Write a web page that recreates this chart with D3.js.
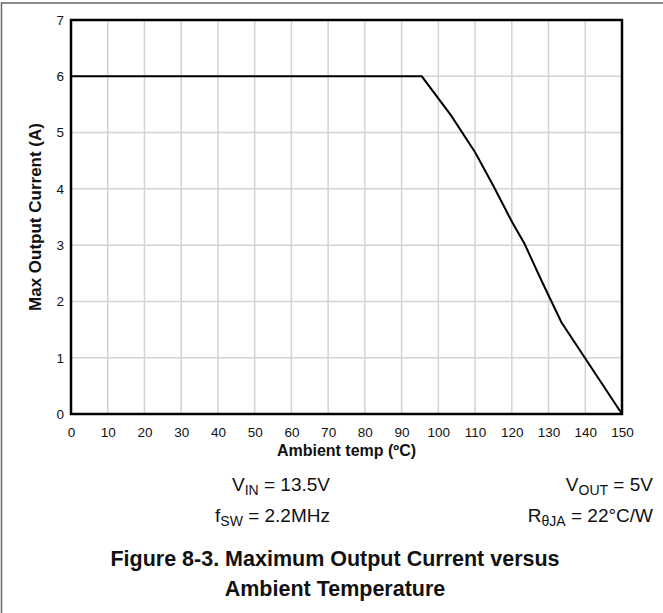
<!DOCTYPE html>
<html><head><meta charset="utf-8">
<script src="https://cdn.jsdelivr.net/npm/d3@7"></script>
<style>body{margin:0;background:#fff}svg{display:block;font-family:"Liberation Sans",Arial,sans-serif}</style>
</head><body>
<svg id="c" width="663" height="613"></svg>
<script>
const tempC = [0, 95.5, 103.5, 110, 115, 120, 123.5, 128, 133.5, 150];
const maxCurrentA = [6, 6, 5.3, 4.65, 4.05, 3.42, 3.02, 2.38, 1.63, 0];
const xTicks = [0,10,20,30,40,50,60,70,80,90,100,110,120,130,140,150];
const yTicks = [0,1,2,3,4,5,6,7];
const xTitle = "Ambient temp (ºC)";
const yTitle = "Max Output Current (A)";
const titleLines = ["Figure 8-3. Maximum Output Current versus", "Ambient Temperature"];

const svg = d3.select("#c");
const L=71, R=622, T=20, B=414;
const FF = "Liberation Sans, Arial, sans-serif";
const x = d3.scaleLinear().domain([0,150]).range([L,R]);
const y = d3.scaleLinear().domain([0,7]).range([B,T]);

// outer frame
svg.append("path").attr("d","M1.5,613 V3 H663").attr("fill","none").attr("stroke","#666").attr("stroke-width",1.5);

// grid
svg.append("g").selectAll("line").data(xTicks.slice(1,-1)).join("line")
  .attr("x1",d=>x(d)).attr("x2",d=>x(d)).attr("y1",T).attr("y2",B)
  .attr("stroke","#d3d3d3").attr("stroke-width",1.5);
svg.append("g").selectAll("line").data(yTicks.slice(1,-1)).join("line")
  .attr("y1",d=>y(d)).attr("y2",d=>y(d)).attr("x1",L).attr("x2",R)
  .attr("stroke","#d3d3d3").attr("stroke-width",1.5);

// axes labels via d3 axes
const xa = svg.append("g").attr("transform",`translate(0,${B})`)
  .call(d3.axisBottom(x).tickValues(xTicks).tickFormat(d3.format("d")).tickSize(0).tickPadding(13));
const ya = svg.append("g").attr("transform",`translate(${L},0)`)
  .call(d3.axisLeft(y).tickValues(yTicks).tickFormat(d3.format("d")).tickSize(0).tickPadding(7));
[xa,ya].forEach(a=>{
  a.attr("font-size",13.5).attr("font-family",FF);
  a.select(".domain").remove();
  a.selectAll("text").attr("fill","#111");
});

// data line
svg.append("path").datum(tempC.map((t,i)=>[t,maxCurrentA[i]]))
  .attr("d",d3.line().x(d=>x(d[0])).y(d=>y(d[1])))
  .attr("fill","none").attr("stroke","#000").attr("stroke-width",2);

// plot border
svg.append("rect").attr("x",L).attr("y",T).attr("width",R-L).attr("height",B-T)
  .attr("fill","none").attr("stroke","#000").attr("stroke-width",2.5);

// axis titles
svg.append("text").attr("x",(L+R)/2).attr("y",456).attr("text-anchor","middle")
  .attr("font-weight","bold").attr("font-size",16).attr("fill","#111").text(xTitle);
svg.append("text").attr("transform",`translate(41,${(T+B)/2}) rotate(-90)`).attr("text-anchor","middle")
  .attr("font-weight","bold").attr("font-size",17).attr("fill","#111").text(yTitle);

// conditions
function cond(xp, yp, main, sub, rest){
  const t = svg.append("text").attr("x",xp).attr("y",yp).attr("text-anchor","end").attr("font-size",19).attr("fill","#111");
  t.append("tspan").text(main);
  t.append("tspan").attr("font-size",14).attr("dy",4).text(sub);
  t.append("tspan").attr("dy",-4).text(rest);
}
cond(330,491,"V","IN"," = 13.5V");
cond(330,522,"f","SW"," = 2.2MHz");
cond(653,491,"V","OUT"," = 5V");
cond(653,522,"R","θJA"," = 22°C/W");

// title
svg.append("g").selectAll("text").data(titleLines).join("text")
  .attr("x",335).attr("y",(d,i)=>566+i*30).attr("text-anchor","middle")
  .attr("font-weight","bold").attr("font-size",21.5).attr("fill","#111").text(d=>d);
</script>
</body></html>
